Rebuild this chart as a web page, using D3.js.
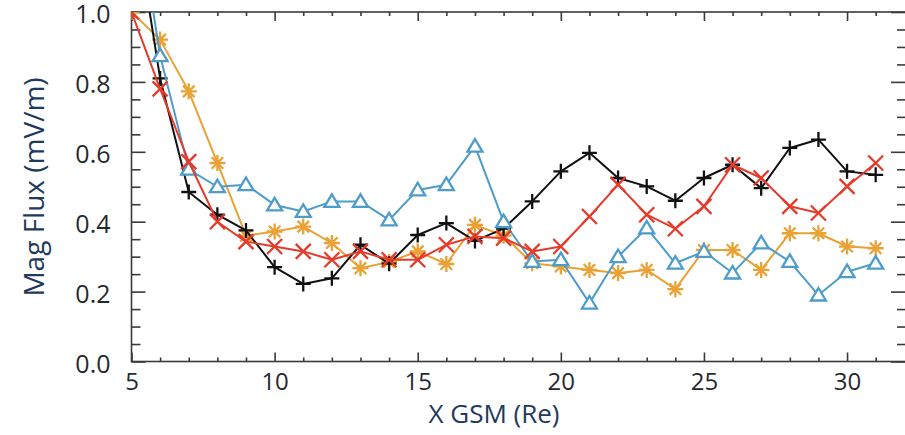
<!DOCTYPE html>
<html>
<head>
<meta charset="utf-8">
<script src="https://cdn.jsdelivr.net/npm/d3@7/dist/d3.min.js"></script>
<style>
  html, body { margin: 0; padding: 0; background: #fff; }
  svg { display: block; }
  text { font-family: "Open Sans", "Noto Sans", sans-serif; }
</style>
</head>
<body>
<svg id="chart" width="905" height="435"></svg>
<script>
// X position (Earth radii, GSM)
const xPos = [5, 6, 7, 8, 9, 10, 11, 12, 13, 14, 15, 16, 17, 18, 19, 20, 21, 22, 23, 24, 25, 26, 27, 28, 29, 30, 31];

// Normalised magnetic flux per series
const blackSeries  = [1.33, 0.81, 0.485, 0.42, 0.375, 0.27, 0.222, 0.238, 0.334, 0.28, 0.362, 0.396, 0.345, 0.38, 0.458, 0.544, 0.597, 0.525, 0.501, 0.46, 0.525, 0.563, 0.496, 0.611, 0.635, 0.544, 0.534];
const redSeries    = [1.0, 0.78, 0.572, 0.40, 0.343, 0.329, 0.315, 0.291, 0.315, 0.291, 0.291, 0.334, 0.358, 0.353, 0.315, 0.329, 0.415, 0.506, 0.42, 0.38, 0.444, 0.563, 0.525, 0.444, 0.425, 0.501, 0.568];
const orangeSeries = [1.0, 0.921, 0.773, 0.568, 0.36, 0.372, 0.386, 0.339, 0.267, 0.285, 0.315, 0.279, 0.391, 0.36, 0.281, 0.272, 0.262, 0.253, 0.262, 0.207, 0.319, 0.319, 0.262, 0.367, 0.367, 0.329, 0.324];
const blueSeries   = [1.4, 0.875, 0.55, 0.50, 0.506, 0.448, 0.429, 0.458, 0.458, 0.405, 0.491, 0.506, 0.616, 0.40, 0.286, 0.291, 0.167, 0.30, 0.382, 0.281, 0.315, 0.253, 0.339, 0.286, 0.19, 0.257, 0.281];

// Axis ticks
const xTickLabels = [5, 10, 15, 20, 25, 30];
const yTickLabels = [0.0, 0.2, 0.4, 0.6, 0.8, 1.0];
const xTitle = "X GSM (Re)";
const yTitle = "Mag Flux (mV/m)";

const svg = d3.select("#chart");
// The frame's right edge sits just past the canvas edge
const plotLeft = 131.5, plotRight = 906, plotTop = 12, plotBottom = 361.5;

const x = d3.scaleLinear().domain([5, 32]).range([plotLeft, 904.3]);
const y = d3.scaleLinear().domain([0, 1]).range([plotBottom, plotTop]);

const axisColor = "#3a3a3a";
const tickText = "#262a30";
const titleColor = "#1f3a5c";

// Clip region for the data
svg.append("defs").append("clipPath").attr("id", "plotClip")
  .append("rect").attr("x", plotLeft).attr("y", plotTop)
  .attr("width", plotRight - plotLeft).attr("height", plotBottom - plotTop);

// Minor / major ticks on all four sides, drawn inward
const xMinor = d3.range(6, 32, 1).filter(v => v % 5 !== 0);
const yMinor = d3.range(1, 20).map(i => i * 0.05).filter((v, i) => (i + 1) % 4 !== 0);

function styleAxis(g) {
  g.select(".domain").remove();
  g.selectAll("line").attr("stroke", axisColor).attr("stroke-width", 1.6);
}

// Bottom
svg.append("g").attr("transform", `translate(0,${plotBottom})`)
  .call(d3.axisBottom(x).tickValues(xMinor).tickSize(-4).tickFormat(""))
  .call(styleAxis);
svg.append("g").attr("transform", `translate(0,${plotBottom})`)
  .call(d3.axisBottom(x).tickValues(xTickLabels).tickSize(-9).tickPadding(21).tickFormat(d3.format("d")))
  .call(styleAxis)
  .call(g => g.selectAll("text").attr("fill", tickText).style("font-size", "24px")
    .attr("dy", "0.32em"));

// Top
svg.append("g").attr("transform", `translate(0,${plotTop})`)
  .call(d3.axisTop(x).tickValues(xMinor).tickSize(-4).tickFormat(""))
  .call(styleAxis);
svg.append("g").attr("transform", `translate(0,${plotTop})`)
  .call(d3.axisTop(x).tickValues(xTickLabels).tickSize(-9).tickFormat(""))
  .call(styleAxis);

// Left
svg.append("g").attr("transform", `translate(${plotLeft},0)`)
  .call(d3.axisLeft(y).tickValues(yMinor).tickSize(-9).tickFormat(""))
  .call(styleAxis);
svg.append("g").attr("transform", `translate(${plotLeft},0)`)
  .call(d3.axisLeft(y).tickValues(yTickLabels).tickSize(-14).tickPadding(21).tickFormat(d3.format(".1f")))
  .call(styleAxis)
  .call(g => g.selectAll("text").attr("fill", tickText).style("font-size", "25px")
    .attr("dy", "0.42em"));

// Right (ticks only; the frame line lies beyond the canvas)
svg.append("g").attr("transform", `translate(${plotRight},0)`)
  .call(d3.axisRight(y).tickValues(yMinor).tickSize(-9).tickFormat(""))
  .call(styleAxis);
svg.append("g").attr("transform", `translate(${plotRight},0)`)
  .call(d3.axisRight(y).tickValues(yTickLabels).tickSize(-15).tickFormat(""))
  .call(styleAxis);

// Frame
svg.append("rect")
  .attr("x", plotLeft).attr("y", plotTop)
  .attr("width", plotRight - plotLeft).attr("height", plotBottom - plotTop)
  .attr("fill", "none").attr("stroke", axisColor).attr("stroke-width", 1.6);

// Axis titles
svg.append("text")
  .attr("x", 494).attr("y", 423)
  .attr("text-anchor", "middle")
  .attr("fill", titleColor)
  .style("font-size", "26px")
  .text(xTitle);

svg.append("text")
  .attr("transform", "translate(44,187) rotate(-90)")
  .attr("text-anchor", "middle")
  .attr("fill", titleColor)
  .style("font-size", "28px")
  .text(yTitle);

// Marker shapes
const markerPath = {
  plus: (s) => `M${-s},0H${s}M0,${-s}V${s}`,
  cross: (s) => `M${-s},${-s}L${s},${s}M${-s},${s}L${s},${-s}`,
  star: (s) => {
    const d = s * 0.72;
    return `M${-s},0H${s}M0,${-s}V${s}M${-d},${-d}L${d},${d}M${-d},${d}L${d},${-d}`;
  },
  triangle: (s) => `M0,${-s * 0.95}L${s},${s * 0.72}L${-s},${s * 0.72}Z`
};

const series = [
  { values: orangeSeries, color: "#e9a236", marker: "star", size: 8 },
  { values: blackSeries,  color: "#111111", marker: "plus", size: 7.5 },
  { values: blueSeries,   color: "#4d9cc9", marker: "triangle", size: 7.5 },
  { values: redSeries,    color: "#e63b2b", marker: "cross", size: 7.5 }
];

const plot = svg.append("g").attr("clip-path", "url(#plotClip)");
const line = d3.line().x((d, i) => x(xPos[i])).y(d => y(d));

series.forEach(s => {
  const g = plot.append("g");
  g.append("path")
    .datum(s.values)
    .attr("d", line)
    .attr("fill", "none")
    .attr("stroke", s.color)
    .attr("stroke-width", 2)
    .attr("stroke-linejoin", "round");
  g.selectAll("path.mk")
    .data(s.values)
    .join("path")
    .attr("class", "mk")
    .attr("transform", (d, i) => `translate(${x(xPos[i])},${y(d)})`)
    .attr("d", markerPath[s.marker](s.size))
    .attr("fill", s.marker === "triangle" ? "#fff" : "none")
    .attr("stroke", s.color)
    .attr("stroke-width", 2.3);
});
</script>
</body>
</html>
